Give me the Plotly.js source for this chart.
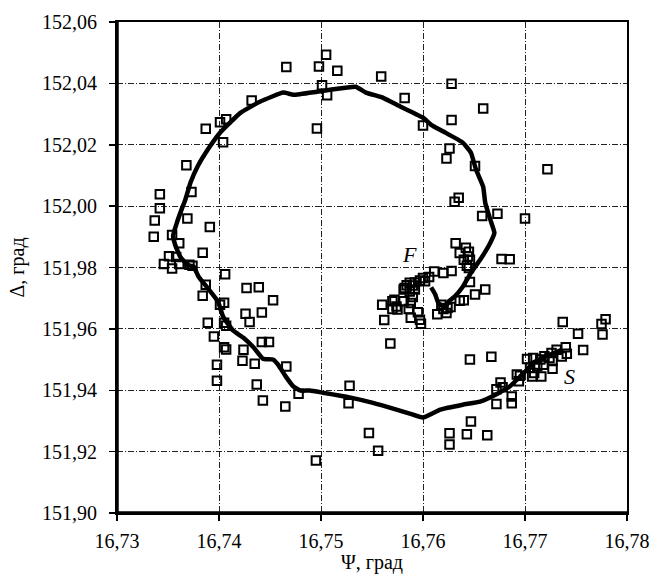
<!DOCTYPE html>
<html>
<head>
<meta charset="utf-8">
<script src="https://cdn.plot.ly/plotly-3.0.1.min.js"></script>
<style>html,body{margin:0;padding:0;background:#fff;}</style>
</head>
<body>
<div id="chart" style="width:653px;height:574px;"></div>
<script>
// Measured points (open squares): Psi (deg) and Delta (deg)
const pointsPsi = [
16.7342,16.7342,16.7337,16.7336,16.7368,16.7373,16.7387,16.7401,16.7407,16.7404,
16.7369,16.7391,16.7354,16.7361,16.7384,16.7351,16.7358,16.7346,16.7354,16.7361,
16.7371,16.7374,16.7406,16.7387,16.7427,16.7439,16.7384,16.7453,16.7401,16.7405,
16.7426,16.7442,16.7430,16.7389,16.7405,16.7407,16.7395,16.7405,16.7407,16.7442,
16.7449,16.7424,16.7423,16.7435,16.7398,16.7466,16.7398,16.7437,16.7478,16.7443,
16.7465,16.7495,
16.7432,16.7466,16.7498,16.7505,16.7501,16.7506,16.7496,16.7516,16.7559,16.7628,
16.7582,16.7659,16.7628,16.7600,16.7626,16.7623,16.7651,16.7722,16.7635,16.7631,
16.7658,16.7673,16.7700,
16.7632,16.7636,16.7642,16.7645,16.7644,16.7640,16.7646,16.7643,16.7645,16.7677,
16.7685,16.7628,16.7620,16.7611,16.7606,16.7600,16.7602,16.7597,16.7592,16.7587,
16.7590,16.7584,16.7581,16.7587,16.7592,16.7590,16.7572,16.7570,16.7560,16.7574,
16.7570,16.7575,16.7581,16.7588,16.7586,16.7595,16.7588,16.7597,16.7598,16.7562,
16.7646,16.7661,16.7651,16.7640,16.7636,16.7618,16.7620,16.7624,16.7614,16.7623,
16.7627,16.7582,16.7568,
16.7528,16.7527,16.7547,16.7556,16.7646,16.7667,16.7626,16.7626,16.7643,16.7663,
16.7647,
16.7676,16.7672,16.7678,16.7672,16.7687,16.7687,16.7692,16.7702,16.7705,16.7709,
16.7707,16.7716,16.7715,16.7719,16.7724,16.7731,16.7740,16.7741,16.7727,16.7727,
16.7736,16.7718,16.7737,16.7752,16.7757,16.7779,16.7775,16.7776,16.7708,16.7712,
16.7695,16.7694,16.7726
];
const pointsDelta = [
152.0039,151.9993,151.9953,151.9900,152.0133,152.0046,152.0252,152.0273,152.0283,152.0208,
151.9960,151.9932,151.9906,151.9879,151.9848,151.9837,151.9834,151.9811,151.9797,151.9811,
151.9809,151.9806,151.9778,151.9744,151.9733,151.9736,151.9708,151.9693,151.9679,151.9685,
151.9649,151.9653,151.9622,151.9620,151.9620,151.9610,151.9575,151.9540,151.9533,151.9557,
151.9557,151.9532,151.9496,151.9486,151.9483,151.9477,151.9431,151.9419,151.9389,151.9367,
151.9347,151.9171,
152.0344,152.0453,152.0455,152.0493,152.0394,152.0361,152.0253,152.0441,152.0422,152.0399,
152.0352,152.0318,152.0281,152.0263,152.0188,152.0155,152.0131,152.0120,152.0027,152.0014,
151.9968,151.9975,151.9960,
151.9879,151.9847,151.9864,151.9851,151.9836,151.9825,151.9825,151.9806,151.9798,151.9828,
151.9827,151.9789,151.9782,151.9787,151.9769,151.9766,151.9755,151.9758,151.9751,151.9750,
151.9741,151.9742,151.9728,151.9722,151.9728,151.9704,151.9695,151.9690,151.9679,151.9673,
151.9665,151.9663,151.9690,151.9684,151.9665,151.9654,151.9636,151.9630,151.9617,151.9629,
151.9753,151.9728,151.9712,151.9693,151.9692,151.9679,151.9665,151.9668,151.9648,151.9652,
151.9671,151.9733,151.9552,
151.9415,151.9358,151.9261,151.9203,151.9500,151.9509,151.9260,151.9223,151.9257,151.9253,
151.9298,
151.9425,151.9403,151.9410,151.9355,151.9380,151.9358,151.9451,151.9502,151.9473,151.9456,
151.9445,151.9445,151.9500,151.9511,151.9505,151.9532,151.9540,151.9519,151.9495,151.9470,
151.9510,151.9483,151.9622,151.9584,151.9531,151.9631,151.9616,151.9582,151.9505,151.9478,
151.9447,151.9429,151.9521
];
// Smoothed trajectory from S to F
const pathPsi = [
16.7736,16.7725,16.7718,16.7708,16.7702,16.7695,16.7685,16.7673,16.7656,16.7639,
16.7617,16.7600,16.7587,16.7574,16.7551,16.7529,16.7502,16.7489,16.7480,16.7473,
16.7465,16.7458,16.7453,16.7443,16.7434,16.7424,16.7414,16.7404,16.7399,16.7388,
16.7380,16.7375,16.7369,16.7362,16.7357,16.7355,16.7359,16.7364,16.7367,16.7370,
16.7372,16.7379,16.7391,16.7401,16.7421,16.7440,16.7463,16.7473,16.7496,16.7509,
16.7534,16.7544,16.7561,16.7578,16.7600,16.7608,16.7620,16.7639,16.7647,16.7652,
16.7659,16.7661,16.7666,16.7670,16.7666,16.7656,16.7647,16.7639,16.7631,16.7625,
16.7622,16.7615,16.7612,16.7608
];
const pathDelta = [
151.9532,151.9516,151.9506,151.9490,151.9467,151.9444,151.9412,151.9389,151.9363,151.9353,
151.9337,151.9311,151.9324,151.9337,151.9359,151.9376,151.9392,151.9399,151.9399,151.9412,
151.9447,151.9483,151.9500,151.9503,151.9539,151.9571,151.9594,151.9640,151.9689,151.9737,
151.9770,151.9803,151.9809,151.9835,151.9874,151.9904,151.9949,151.9995,152.0021,152.0054,
152.0076,152.0129,152.0194,152.0239,152.0304,152.0340,152.0370,152.0363,152.0373,152.0379,
152.0389,152.0370,152.0353,152.0324,152.0288,152.0265,152.0243,152.0207,152.0174,152.0119,
152.0063,152.0011,151.9956,151.9913,151.9881,151.9825,151.9783,151.9737,151.9705,151.9689,
151.9669,151.9685,151.9712,151.9735
];
const xTicks = [16.73,16.74,16.75,16.76,16.77,16.78];
const yTicks = [151.90,151.92,151.94,151.96,151.98,152.00,152.02,152.04,152.06];
const labels = [{t:'F', x:16.7587, y:151.9842}, {t:'S', x:16.7744, y:151.9445}];

const serif = 'Liberation Serif, Times New Roman, serif';

const traces = [
  {
    x: pointsPsi, y: pointsDelta, type: 'scatter', mode: 'markers',
    marker: {symbol: 'square-open', size: 8.5, color: '#000', line: {width: 2, color: '#000'}},
    hoverinfo: 'x+y', showlegend: false
  },
  {
    x: pathPsi, y: pathDelta, type: 'scatter', mode: 'lines',
    line: {color: '#000', width: 4.5, shape: 'spline', smoothing: 0.4},
    hoverinfo: 'skip', showlegend: false
  }
];

const axisCommon = {
  showline: true, linecolor: '#000', linewidth: 2, mirror: true,
  ticks: 'outside', ticklen: 6, tickwidth: 1.5, tickcolor: '#000',
  showgrid: true, gridcolor: '#222', gridwidth: 1, griddash: '6px,2px,1px,2px',
  zeroline: false, tickformat: '.2f',
  tickfont: {family: serif, size: 20, color: '#000'}
};

const layout = {
  width: 653, height: 574,
  margin: {l: 117, r: 26, t: 22, b: 61},
  paper_bgcolor: '#fff', plot_bgcolor: '#fff',
  separators: ', ',
  xaxis: Object.assign({}, axisCommon, {
    range: [16.73, 16.78], tickvals: xTicks, ticklabelstandoff: 3,
    title: {text: 'Ψ, град', font: {family: serif, size: 20, color: '#000'}, standoff: 4}
  }),
  yaxis: Object.assign({}, axisCommon, {
    range: [151.90, 152.06], tickvals: yTicks, ticklabelstandoff: 8,
    title: {text: 'Δ, град', font: {family: serif, size: 20, color: '#000'}, standoff: 12}
  }),
  shapes: [
    {type: 'line', xref: 'paper', yref: 'paper', x0: 0, x1: 0, y0: 0, y1: 1, line: {color: '#000', width: 3.5}},
    {type: 'line', xref: 'paper', yref: 'paper', x0: 0, x1: 1, y0: 0, y1: 0, line: {color: '#000', width: 3.5}}
  ],
  annotations: labels.map(l => ({
    x: l.x, y: l.y, xref: 'x', yref: 'y', text: l.t, showarrow: false,
    font: {family: serif, size: 22, color: '#000', style: 'italic'}
  }))
};

Plotly.newPlot('chart', traces, layout, {displayModeBar: false, staticPlot: true});
</script>
</body>
</html>
